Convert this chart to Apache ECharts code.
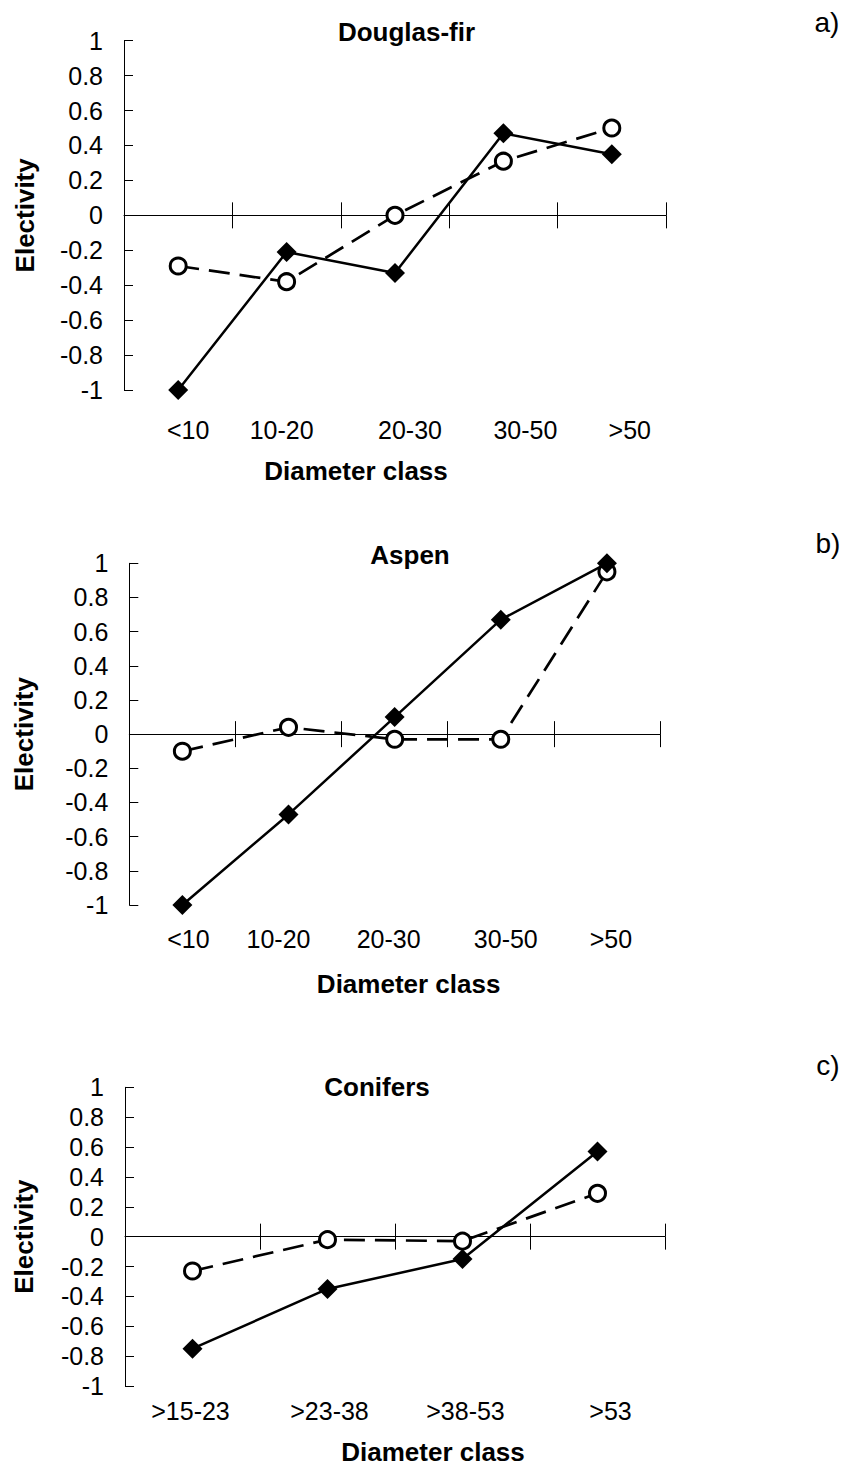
<!DOCTYPE html>
<html><head><meta charset="utf-8">
<script src="https://cdn.jsdelivr.net/npm/echarts@6/dist/echarts.min.js"></script>
<style>html,body{margin:0;padding:0;background:#fff}#c{width:848px;height:1466px}</style>
</head><body><div id="c"></div>
<script>
// ---- data ----
const categoriesDouglas = ['<10', '10-20', '20-30', '30-50', '>50'];
const categoriesAspen = ['<10', '10-20', '20-30', '30-50', '>50'];
const categoriesConifers = ['>15-23', '>23-38', '>38-53', '>53'];

const douglasFilled = [-1, -0.21, -0.33, 0.47, 0.35];
const douglasOpen = [-0.29, -0.38, 0.0, 0.31, 0.5];
const aspenFilled = [-1, -0.47, 0.1, 0.67, 1.0];
const aspenOpen = [-0.1, 0.04, -0.03, -0.03, 0.95];
const conifersFilled = [-0.75, -0.35, -0.15, 0.57];
const conifersOpen = [-0.23, -0.02, -0.03, 0.29];

const panelTitles = ['Douglas-fir', 'Aspen', 'Conifers'];
const panelLetters = ['a)', 'b)', 'c)'];
const yAxisTitle = 'Electivity';
const xAxisTitle = 'Diameter class';
const yMin = -1, yMax = 1, yStep = 0.2;

// ---- layout ----
const FONT = 'Arial, "Liberation Sans", Helvetica, sans-serif';
const layout = [
  { grid: { left: 124, top: 40.7, width: 542, height: 349.3 }, titlePos: [406.5, 32], letterPos: [827, 22],
    labelMargin: 27, labelShift: [10, -5, 15, 22, 18], yNameGap: 86, xNameGap: 68, xNameShift: -39 },
  { grid: { left: 129.3, top: 563.3, width: 530.7, height: 341.7 }, titlePos: [410, 555], letterPos: [828, 543],
    labelMargin: 21, labelShift: [6, -10, -6, 5, 4], yNameGap: 92, xNameGap: 66, xNameShift: 14 },
  { grid: { left: 125, top: 1087.3, width: 540, height: 299.4 }, titlePos: [377, 1087], letterPos: [828, 1065],
    labelMargin: 12, labelShift: [-2, 2, 3, 13], yNameGap: 88, xNameGap: 53, xNameShift: 38 }
];

const panels = [
  { cats: categoriesDouglas, filled: douglasFilled, open: douglasOpen },
  { cats: categoriesAspen, filled: aspenFilled, open: aspenOpen },
  { cats: categoriesConifers, filled: conifersFilled, open: conifersOpen }
];

const option = { animation: false, backgroundColor: '#fff', grid: [], xAxis: [], yAxis: [], series: [], title: [] };

panels.forEach((p, k) => {
  const L = layout[k];
  option.grid.push(Object.assign({ containLabel: false }, L.grid));
  const shiftPad = s => s >= 0 ? [0, 0, 0, 2 * s] : [0, -2 * s, 0, 0];
  // category labels at the bottom of the plot
  option.xAxis.push({
    type: 'category', gridIndex: k, position: 'bottom', boundaryGap: true,
    data: p.cats.map((c, i) => ({ value: c, textStyle: { padding: shiftPad(L.labelShift[i]) } })),
    axisLine: { show: false, onZero: false }, axisTick: { show: false }, splitLine: { show: false },
    axisLabel: { interval: 0, margin: L.labelMargin, fontSize: 25, fontFamily: FONT, color: '#000' },
    name: xAxisTitle, nameLocation: 'middle', nameGap: L.xNameGap,
    nameTextStyle: { fontSize: 26, fontWeight: 'bold', fontFamily: FONT, color: '#000', padding: shiftPad(L.xNameShift) }
  });
  // zero line with ticks downward
  option.xAxis.push({
    type: 'category', gridIndex: k, position: 'bottom', boundaryGap: true, data: p.cats,
    axisLine: { show: true, onZero: true, onZeroAxisIndex: k, lineStyle: { color: '#000', width: 1 } },
    axisTick: { show: true, inside: false, length: 13, interval: 0, lineStyle: { color: '#000', width: 1 } },
    axisLabel: { show: false }, splitLine: { show: false }
  });
  // ticks upward
  option.xAxis.push({
    type: 'category', gridIndex: k, position: 'bottom', boundaryGap: true, data: p.cats,
    axisLine: { show: false, onZero: true, onZeroAxisIndex: k },
    axisTick: { show: true, inside: true, length: 13, interval: 0, lineStyle: { color: '#000', width: 1 } },
    axisLabel: { show: false }, splitLine: { show: false }
  });
  option.yAxis.push({
    type: 'value', gridIndex: k, min: yMin, max: yMax, interval: yStep,
    axisLine: { show: true, onZero: false, lineStyle: { color: '#000', width: 1 } },
    axisTick: { show: true, inside: true, length: 9, lineStyle: { color: '#000', width: 1 } },
    splitLine: { show: false },
    axisLabel: { margin: 21, fontSize: 25, fontFamily: FONT, color: '#000',
      formatter: v => String(Math.round(v * 10) / 10) },
    name: yAxisTitle, nameLocation: 'middle', nameRotate: 90, nameGap: L.yNameGap,
    nameTextStyle: { fontSize: 26, fontWeight: 'bold', fontFamily: FONT, color: '#000' }
  });
  option.series.push({
    name: panelTitles[k] + ' (filled)', type: 'line', xAxisIndex: 3 * k, yAxisIndex: k, data: p.filled,
    symbol: 'diamond', symbolSize: 20, clip: false, z: 3,
    lineStyle: { color: '#000', width: 2.5, type: 'solid' },
    itemStyle: { color: '#000', borderColor: '#000', borderWidth: 0 }
  });
  option.series.push({
    name: panelTitles[k] + ' (open)', type: 'line', xAxisIndex: 3 * k, yAxisIndex: k, data: p.open,
    symbol: 'circle', symbolSize: 16, clip: false, z: 2,
    lineStyle: { color: '#000', width: 2.7, type: [21, 10] },
    itemStyle: { color: '#fff', borderColor: '#000', borderWidth: 3 }
  });
  option.title.push({
    text: panelTitles[k], left: L.titlePos[0], top: L.titlePos[1], textAlign: 'center', textVerticalAlign: 'middle', padding: 0,
    textStyle: { fontSize: 26, fontWeight: 'bold', fontFamily: FONT, color: '#000' }
  });
  option.title.push({
    text: panelLetters[k], left: L.letterPos[0], top: L.letterPos[1], textAlign: 'center', textVerticalAlign: 'middle', padding: 0,
    textStyle: { fontSize: 28, fontWeight: 'normal', fontFamily: FONT, color: '#000' }
  });
});

const chart = echarts.init(document.getElementById('c'), null, { renderer: 'svg', width: 848, height: 1466 });
chart.setOption(option);
</script>
</body></html>
